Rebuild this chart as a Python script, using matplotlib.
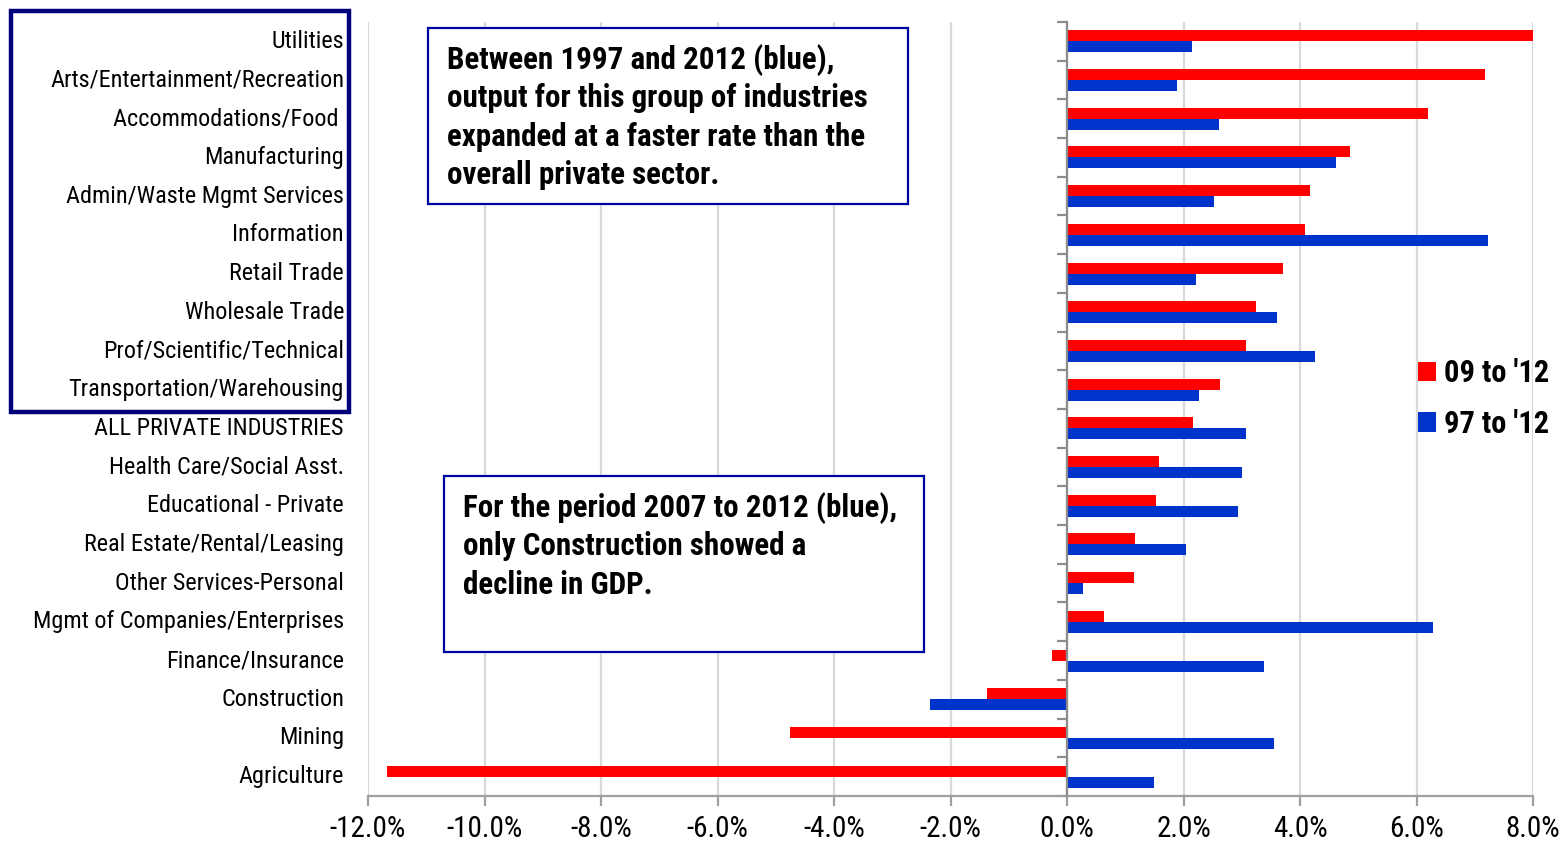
import matplotlib
matplotlib.use("Agg")
import matplotlib.pyplot as plt
import matplotlib.transforms as mtransforms
from matplotlib.patches import Rectangle
import numpy as np

# Industries, top to bottom
industries = [
    "Utilities", "Arts/Entertainment/Recreation", "Accommodations/Food ",
    "Manufacturing", "Admin/Waste Mgmt Services", "Information",
    "Retail Trade", "Wholesale Trade", "Prof/Scientific/Technical",
    "Transportation/Warehousing", "ALL PRIVATE INDUSTRIES",
    "Health Care/Social Asst.", "Educational - Private",
    "Real Estate/Rental/Leasing", "Other Services-Personal",
    "Mgmt of Companies/Enterprises", "Finance/Insurance", "Construction",
    "Mining", "Agriculture",
]

# Average annual real GDP growth, percent
growth_09_12 = [8.04, 7.18, 6.20, 4.86, 4.17, 4.08, 3.70, 3.25, 3.08, 2.62,
                2.16, 1.58, 1.52, 1.17, 1.15, 0.63, -0.25, -1.37, -4.75, -11.67]
growth_97_12 = [2.14, 1.89, 2.61, 4.62, 2.52, 7.23, 2.22, 3.60, 4.26, 2.27,
                3.08, 3.00, 2.94, 2.05, 0.27, 6.28, 3.39, -2.36, 3.55, 1.49]

series_labels = ["09 to '12", "97 to '12"]
x_ticks = [-12, -10, -8, -6, -4, -2, 0, 2, 4, 6, 8]

RED = "#FF0000"
BLUE = "#0033CC"
NAVY = "#00007A"
BOX_EDGE = "#0000A0"

NARROW = ["Roboto Condensed", "DejaVu Sans"]

W, H = 1564, 846
fig = plt.figure(figsize=(W / 100, H / 100), dpi=100)
ax = fig.add_axes([368 / W, 1 - 796 / H, (1533 - 368) / W, (796 - 22) / H])

n = len(industries)
pos = np.arange(n)
bar_h = 0.285
ax.barh(pos - bar_h / 2, growth_09_12, height=bar_h, color=RED,
        label=series_labels[0], zorder=3)
ax.barh(pos + bar_h / 2, growth_97_12, height=bar_h, color=BLUE,
        label=series_labels[1], zorder=3)

ax.set_ylim(n - 0.5, -0.5)
ax.set_xlim(-12, 8)

# grid and axes styling
ax.set_xticks(x_ticks)
ax.set_xticklabels([f"{v:.1f}%" for v in x_ticks], family=NARROW, fontsize=21)
ax.grid(axis="x", color="#D9D9D9", linewidth=1.6, zorder=0)
ax.set_axisbelow(True)
for s in ("top", "right"):
    ax.spines[s].set_visible(False)
ax.spines["bottom"].set_color("#A0A0A0")
ax.spines["bottom"].set_linewidth(1.6)
ax.spines["left"].set_position(("data", 0))
ax.spines["left"].set_color("#8C8C8C")
ax.spines["left"].set_linewidth(1.6)
ax.spines["left"].set_zorder(4)
ax.tick_params(axis="x", direction="out", length=7, width=1.6,
               color="#A0A0A0", pad=7)

# category axis: tick marks between categories, labels on the far left
ax.set_yticks(np.arange(-0.5, n, 1.0))
ax.set_yticklabels([])
ax.tick_params(axis="y", direction="out", length=7, width=1.6,
               color="#8C8C8C")
lab_tr = mtransforms.blended_transform_factory(ax.transAxes, ax.transData)
for i, name in enumerate(industries):
    ax.text(-24 / 1165, i, name, transform=lab_tr, ha="right", va="center",
            family=NARROW, fontsize=17.5)

# frame around the faster-growing group
fig.add_artist(Rectangle((11 / W, 1 - 412 / H), (349 - 11) / W, (412 - 11) / H,
                         transform=fig.transFigure, fill=False,
                         edgecolor=NAVY, linewidth=3.2, zorder=5))

# annotation boxes
def note_box(x0, y0, x1, y1, tx, baselines, lines):
    fig.add_artist(Rectangle((x0 / W, 1 - y1 / H), (x1 - x0) / W, (y1 - y0) / H,
                             transform=fig.transFigure, facecolor="white",
                             edgecolor=BOX_EDGE, linewidth=1.6, zorder=5))
    for yb, line in zip(baselines, lines):
        fig.text(tx / W, 1 - yb / H, line, ha="left", va="baseline",
                 family=NARROW, fontweight="bold", fontsize=22.3, zorder=6)

note_box(428, 28, 908, 204, 447, [68.5, 107, 145.5, 184],
         ["Between 1997 and 2012 (blue),",
          "output for this group of industries",
          "expanded at a faster rate than the",
          "overall private sector."])
note_box(444, 476, 924, 652, 463, [516.5, 555, 593.5],
         ["For the period 2007 to 2012 (blue),",
          "only Construction showed a",
          "decline in GDP."])

# legend
leg = fig.legend(loc="upper left", bbox_to_anchor=(1418 / W, 1 - 358 / H),
                 frameon=False, handlelength=0.6, handleheight=0.6,
                 handletextpad=0.25, labelspacing=0.68, borderpad=0,
                 borderaxespad=0,
                 prop={"family": NARROW, "weight": "bold", "size": 22})

fig.savefig("out.png", dpi=100)
